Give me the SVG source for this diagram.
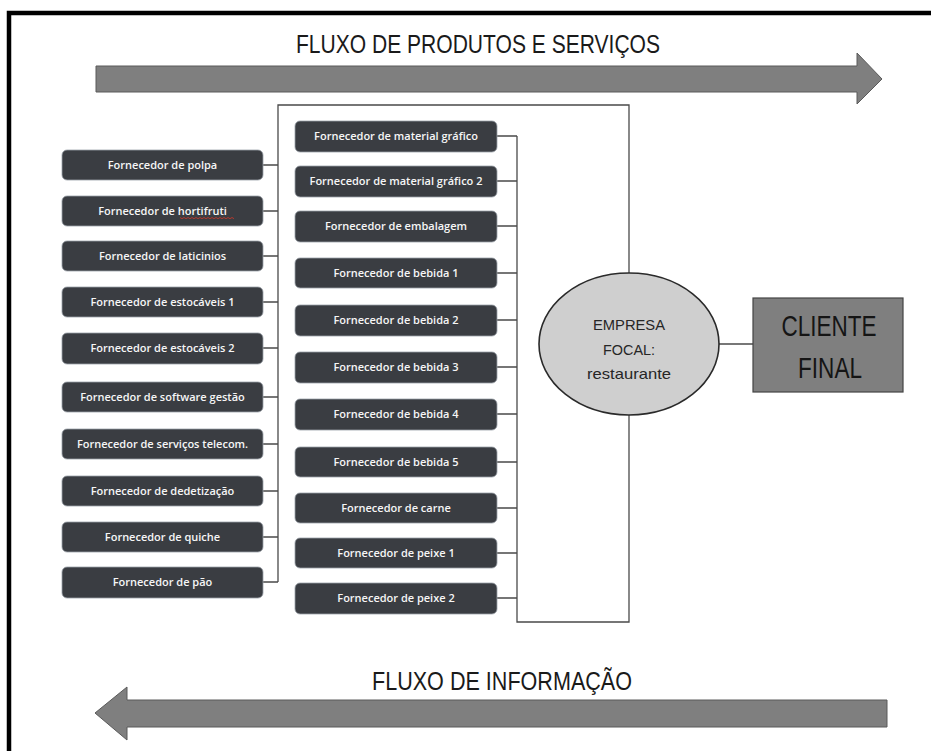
<svg xmlns="http://www.w3.org/2000/svg" width="931" height="751" viewBox="0 0 931 751">
<style>
.box{fill:#3a3d42;stroke:#9aa1a8;stroke-width:0.8}
.bt{fill:#f6f6f6;font-family:"Open Sans","Liberation Sans",sans-serif;font-size:11px;font-weight:600;text-anchor:middle}
.ln{fill:none;stroke:#4a4a4a;stroke-width:1.3}
.title{fill:#1a1a1a;font-family:"Liberation Sans",sans-serif;font-size:26px}
.arrow{fill:#7f7f7f;stroke:#5a5a5a;stroke-width:1}
.et{fill:#262626;font-family:"Liberation Sans",sans-serif;font-size:15px;text-anchor:middle}
.ct{fill:#151515;font-family:"Liberation Sans",sans-serif;font-size:29px;text-anchor:middle}
</style>
<rect x="0" y="0" width="931" height="751" fill="#ffffff"/>
<path d="M9,751 V13 H931" fill="none" stroke="#000" stroke-width="4.5"/>

<g id="title-top"><text class="title" x="296" y="53" textLength="364" lengthAdjust="spacingAndGlyphs">FLUXO DE PRODUTOS E SERVIÇOS</text></g>
<g id="arrow-top"><polygon class="arrow" points="96,66 857,66 857,53 882,79 857,104 857,92 96,92"/></g>

<g id="connectors">
<path class="ln" d="M278,582 V105 H629 V622 H517 V136"/>
<path class="ln" d="M263,165 H278 M263,211 H278 M263,256 H278 M263,302 H278 M263,348 H278 M263,397 H278 M263,444 H278 M263,491 H278 M263,537 H278 M263,582 H278"/>
<path class="ln" d="M497,136 H517 M497,181 H517 M497,226 H517 M497,273 H517 M497,320 H517 M497,367 H517 M497,414 H517 M497,462 H517 M497,508 H517 M497,553 H517 M497,598 H517"/>
<path class="ln" d="M718,344 H753"/>
</g>

<g id="n-polpa"><rect class="box" x="62" y="150" width="201" height="30" rx="5"/><text class="bt" x="162.5" y="169">Fornecedor de polpa</text></g>
<g id="n-hortifruti"><rect class="box" x="62" y="196" width="201" height="30" rx="5"/><text class="bt" x="162.5" y="215">Fornecedor de hortifruti</text><path d="M180,217.5 l2,1.2 l2,-1.2 l2,1.2 l2,-1.2 l2,1.2 l2,-1.2 l2,1.2 l2,-1.2 l2,1.2 l2,-1.2 l2,1.2 l2,-1.2 l2,1.2 l2,-1.2 l2,1.2 l2,-1.2 l2,1.2 l2,-1.2 l2,1.2 l2,-1.2 l2,1.2 l2,-1.2 l2,1.2 l2,-1.2 l2,1.2 l2,-1.2 l2,1.2" fill="none" stroke="#c0392b" stroke-width="0.9"/></g>
<g id="n-laticinios"><rect class="box" x="62" y="241" width="201" height="30" rx="5"/><text class="bt" x="162.5" y="260">Fornecedor de laticinios</text></g>
<g id="n-estocaveis1"><rect class="box" x="62" y="287" width="201" height="30" rx="5"/><text class="bt" x="162.5" y="306">Fornecedor de estocáveis 1</text></g>
<g id="n-estocaveis2"><rect class="box" x="62" y="333" width="201" height="31" rx="5"/><text class="bt" x="162.5" y="352">Fornecedor de estocáveis 2</text></g>
<g id="n-software"><rect class="box" x="62" y="382" width="201" height="30" rx="5"/><text class="bt" x="162.5" y="401">Fornecedor de software gestão</text></g>
<g id="n-telecom"><rect class="box" x="62" y="429" width="201" height="30" rx="5"/><text class="bt" x="162.5" y="448">Fornecedor de serviços telecom.</text></g>
<g id="n-dedetizacao"><rect class="box" x="62" y="476" width="201" height="30" rx="5"/><text class="bt" x="162.5" y="495">Fornecedor de dedetização</text></g>
<g id="n-quiche"><rect class="box" x="62" y="522" width="201" height="30" rx="5"/><text class="bt" x="162.5" y="541">Fornecedor de quiche</text></g>
<g id="n-pao"><rect class="box" x="62" y="567" width="201" height="31" rx="5"/><text class="bt" x="162.5" y="586">Fornecedor de pão</text></g>

<g id="n-grafico1"><rect class="box" x="295" y="121" width="202" height="31" rx="5"/><text class="bt" x="396" y="140">Fornecedor de material gráfico</text></g>
<g id="n-grafico2"><rect class="box" x="295" y="166" width="202" height="31" rx="5"/><text class="bt" x="396" y="185">Fornecedor de material gráfico 2</text></g>
<g id="n-embalagem"><rect class="box" x="295" y="211" width="202" height="31" rx="5"/><text class="bt" x="396" y="230">Fornecedor de embalagem</text></g>
<g id="n-bebida1"><rect class="box" x="295" y="258" width="202" height="30" rx="5"/><text class="bt" x="396" y="277">Fornecedor de bebida 1</text></g>
<g id="n-bebida2"><rect class="box" x="295" y="305" width="202" height="31" rx="5"/><text class="bt" x="396" y="324">Fornecedor de bebida 2</text></g>
<g id="n-bebida3"><rect class="box" x="295" y="352" width="202" height="31" rx="5"/><text class="bt" x="396" y="371">Fornecedor de bebida 3</text></g>
<g id="n-bebida4"><rect class="box" x="295" y="399" width="202" height="31" rx="5"/><text class="bt" x="396" y="418">Fornecedor de bebida 4</text></g>
<g id="n-bebida5"><rect class="box" x="295" y="447" width="202" height="30" rx="5"/><text class="bt" x="396" y="466">Fornecedor de bebida 5</text></g>
<g id="n-carne"><rect class="box" x="295" y="493" width="202" height="30" rx="5"/><text class="bt" x="396" y="512">Fornecedor de carne</text></g>
<g id="n-peixe1"><rect class="box" x="295" y="538" width="202" height="30" rx="5"/><text class="bt" x="396" y="557">Fornecedor de peixe 1</text></g>
<g id="n-peixe2"><rect class="box" x="295" y="583" width="202" height="31" rx="5"/><text class="bt" x="396" y="602">Fornecedor de peixe 2</text></g>

<g id="n-empresa"><ellipse cx="629" cy="344" rx="90" ry="71" fill="#cfcfcf" stroke="#2a2a2a" stroke-width="1.6"/>
<text class="et" x="629" y="330" textLength="72" lengthAdjust="spacingAndGlyphs">EMPRESA</text>
<text class="et" x="629" y="355" textLength="52" lengthAdjust="spacingAndGlyphs">FOCAL:</text>
<text class="et" x="629" y="379" textLength="84" lengthAdjust="spacingAndGlyphs" fill="#3c3c3c">restaurante</text></g>

<g id="n-cliente"><rect x="753" y="298" width="150" height="94" fill="#7f7f7f" stroke="#444" stroke-width="1.2"/>
<text class="ct" x="829" y="336" textLength="95" lengthAdjust="spacingAndGlyphs">CLIENTE</text>
<text class="ct" x="830" y="378" textLength="64" lengthAdjust="spacingAndGlyphs">FINAL</text></g>

<g id="title-bottom"><text class="title" x="372" y="690" textLength="260" lengthAdjust="spacingAndGlyphs">FLUXO DE INFORMAÇÃO</text></g>
<g id="arrow-bottom"><polygon class="arrow" points="887,700 127,700 127,687 95,713 127,740 127,727 887,727"/></g>
</svg>
